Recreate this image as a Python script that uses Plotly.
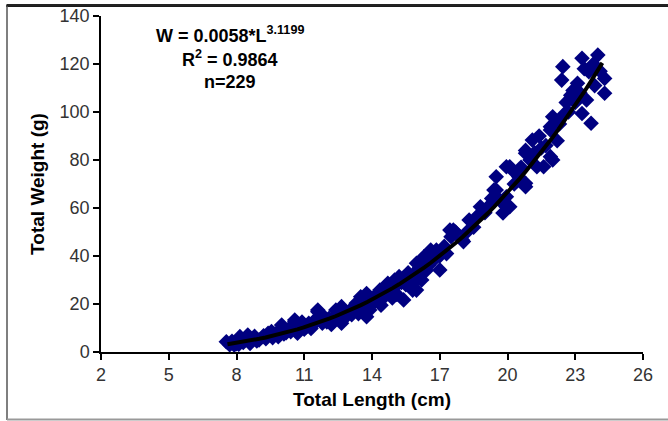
import plotly.graph_objects as go

length_cm = [7.55, 7.7, 7.9, 7.8, 8.0, 8.15, 8.3, 8.5, 8.67, 8.6, 8.9,
             9.4, 9.3, 9.6, 9.55, 9.85, 9.9, 10.0, 10.1, 10.3, 10.2, 10.58, 10.58, 10.7, 10.5, 10.8,
             11.0, 11.2, 11.1, 11.4, 11.6, 11.6, 11.8, 11.5, 12.0, 12.1, 12.35, 12.4, 12.65, 12.65,
             12.7, 12.9, 13.0, 13.2, 13.3, 13.1, 13.5, 13.5, 13.76, 13.76, 13.8, 14.05, 13.9, 14.2,
             14.35, 14.3, 14.5, 14.7, 14.6, 14.8, 15.0, 15.2, 15.1, 15.4, 15.3, 15.5, 15.8, 15.8,
             15.97, 15.9, 15.97, 16.1, 16.3, 16.2, 16.5, 16.6, 16.85, 16.7, 17.0, 17.0, 17.45, 17.6,
             17.5, 17.7, 18.0, 18.05, 18.3, 18.5, 18.8, 18.7, 19.0, 19.4, 19.5, 19.5, 19.65, 19.8,
             19.95, 19.95, 19.95, 20.1, 20.1, 20.3, 20.5, 20.8, 20.8, 20.8, 20.8, 21.1, 21.0, 21.3,
             21.6, 21.5, 21.9, 21.9, 21.9, 22.0, 22.0, 22.2, 22.4, 22.45, 22.6, 22.7, 22.9, 23.0,
             23.3, 23.3, 23.6, 23.7, 23.86, 24.0, 24.3, 24.3, 23.5, 23.1,
             8.1, 8.4, 8.8, 9.0, 9.2, 9.7, 10.4, 10.9, 11.3, 11.9, 12.2, 12.5, 12.8, 13.4, 13.6,
             14.1, 14.4, 14.9, 15.0, 15.6, 15.7, 16.0, 16.4, 16.8, 17.2, 17.3, 18.2, 18.6, 19.2,
             19.3, 20.3, 20.6, 21.2, 21.4, 21.7, 22.3, 22.5, 22.8, 23.2, 23.4, 23.8, 24.1]
weight_g = [4.3, 3.0, 2.9, 4.5, 3.5, 6.4, 4.0, 7.1, 5.0, 3.6, 4.6,
            7.8, 5.5, 6.0, 8.5, 6.4, 9.0, 11.2, 7.5, 9.5, 8.0, 12.6, 13.3, 7.8, 10.5, 11.0,
            9.5, 12.0, 10.5, 11.5, 17.5, 16.8, 12.0, 13.5, 12.5, 14.0, 14.7, 17.5, 18.9, 12.0,
            13.3, 15.5, 17.0, 18.9, 20.3, 15.5, 23.0, 19.0, 24.4, 14.7, 21.0, 20.3, 17.5, 22.5,
            25.8, 21.0, 24.0, 28.6, 23.5, 26.5, 27.0, 31.4, 24.0, 21.7, 29.0, 28.0, 31.4, 25.8,
            37.0, 33.0, 25.8, 35.0, 39.7, 30.0, 36.0, 42.5, 42.5, 38.5, 34.2, 40.0, 50.8, 50.8,
            48.0, 50.0, 46.7, 46.0, 55.0, 52.0, 60.5, 57.0, 58.0, 67.5, 73.0, 67.5, 63.3, 57.9,
            60.5, 64.7, 77.2, 77.2, 60.5, 70.0, 73.0, 70.3, 68.9, 82.8, 84.0, 88.3, 80.0, 77.2,
            77.2, 85.0, 92.5, 93.9, 81.4, 80.0, 98.0, 88.0, 113.3, 118.9, 104.0, 100.0, 109.0, 104.0,
            122.4, 99.4, 116.8, 95.3, 111.0, 123.7, 114.0, 107.8, 105.0, 112.0,
            3.2, 5.5, 6.5, 5.0, 6.8, 7.5, 8.5, 12.5, 9.8, 14.5, 11.5, 15.5, 16.5, 16.0, 18.5,
            23.0, 19.5, 22.5, 30.0, 33.0, 29.0, 30.5, 34.0, 39.0, 44.0, 41.0, 50.0, 55.5, 61.0,
            64.0, 75.0, 77.0, 83.0, 90.0, 86.0, 95.0, 99.0, 107.0, 108.0, 118.0, 120.0, 117.0]

# Power trendline coefficients as printed on the chart
coef_a = 0.0058
coef_b = 3.1199
fit_range = [7.6, 24.2]

x_ticks = [2, 5, 8, 11, 14, 17, 20, 23, 26]
y_ticks = [0, 20, 40, 60, 80, 100, 120, 140]

n_fit = 60
fit_x = [fit_range[0] + (fit_range[1] - fit_range[0]) * i / (n_fit - 1) for i in range(n_fit)]
fit_y = [coef_a * x ** coef_b for x in fit_x]

fig = go.Figure()
fig.add_trace(go.Scatter(
    x=length_cm, y=weight_g, mode="markers",
    marker=dict(symbol="diamond", size=12, color="#000080", line=dict(width=0)),
    showlegend=False, hoverinfo="x+y"))
fig.add_trace(go.Scatter(
    x=fit_x, y=fit_y, mode="lines",
    line=dict(color="#000000", width=4), showlegend=False, hoverinfo="skip"))

font_main = "Liberation Sans, Arial, sans-serif"

fig.update_layout(
    width=668, height=421,
    margin=dict(l=101, r=25, t=16, b=69, autoexpand=False),
    paper_bgcolor="white", plot_bgcolor="white",
    font=dict(family=font_main, color="#222222", size=15),
    xaxis=dict(range=[2, 26], tickvals=x_ticks, ticktext=[str(v) for v in x_ticks],
               automargin=False,
               showgrid=False, zeroline=False, showline=True, linecolor="#000000", linewidth=1.5,
               ticks="outside", ticklen=6, tickcolor="#000000", tickwidth=1.5,
               tickfont=dict(size=18, color="#333333"),
               title=dict(text="<b>Total Length (cm)</b>", font=dict(size=19, color="#000000"),
                          standoff=8)),
    yaxis=dict(range=[0, 140], tickvals=y_ticks, ticktext=[str(v) for v in y_ticks],
               automargin=False,
               showgrid=False, zeroline=False, showline=True, linecolor="#000000", linewidth=1.5,
               ticks="outside", ticklen=6, tickcolor="#000000", tickwidth=1.5,
               tickfont=dict(size=18, color="#333333"),
               title=dict(text="<b>Total Weight (g)</b>", font=dict(size=19, color="#000000"),
                          standoff=10)),
)

# Equation annotations (positions in pixel-derived paper coords)
def px_x(px):
    return (px - 101) / 542.0

def px_y(py):
    return (352 - py) / 336.0

eq_lines = ["<b>W = 0.0058*L<sup>3.1199</sup></b>", "<b>R<sup>2</sup> = 0.9864</b>", "<b>n=229</b>"]
eq_y = [34, 58, 82]
for txt, yy in zip(eq_lines, eq_y):
    fig.add_annotation(text=txt, xref="paper", yref="paper", x=px_x(230), y=px_y(yy),
                       xanchor="center", yanchor="middle", showarrow=False,
                       font=dict(size=18, color="#000000", family=font_main))

# Chart frame
fig.add_shape(type="rect", xref="paper", yref="paper", x0=px_x(6), x1=px_x(668), y0=px_y(4.5), y1=px_y(7),
              line=dict(width=0), fillcolor="#1a1a1a", layer="above")
fig.add_shape(type="line", xref="paper", yref="paper", x0=px_x(7), x1=px_x(7), y0=px_y(5), y1=px_y(420),
              line=dict(color="#555555", width=1.5), layer="above")
fig.add_shape(type="line", xref="paper", yref="paper", x0=px_x(7), x1=px_x(668), y0=px_y(419.5), y1=px_y(419.5),
              line=dict(color="#999999", width=2), layer="above")

page_js = (
    "document.body.style.margin='0';document.body.style.overflow='hidden';"
    "var b=document.createElement('div');"
    "b.style.cssText='position:absolute;left:7px;top:4px;width:661px;height:0;"
    "border-top:2px solid #222;pointer-events:none;z-index:10';"
    "document.body.appendChild(b);"
)
fig.write_html("out.html", config={"displayModeBar": False}, post_script=page_js)
